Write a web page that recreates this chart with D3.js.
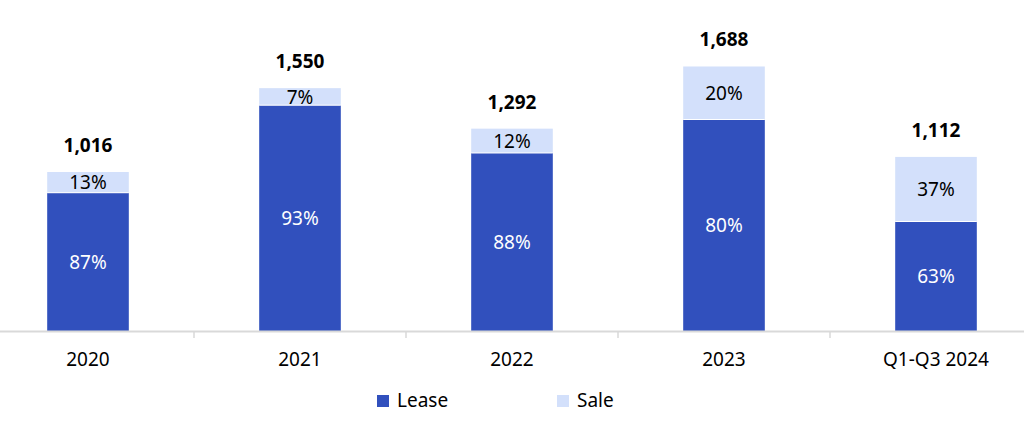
<!DOCTYPE html>
<html>
<head>
<meta charset="utf-8">
<script src="https://d3js.org/d3.v7.min.js"></script>
<style>
  body { margin: 0; background: #fff; }
  text { font-family: "Noto Sans", "Open Sans", sans-serif; }
</style>
</head>
<body>
<div id="chart"></div>
<script>
// data
var categories = ["2020", "2021", "2022", "2023", "Q1-Q3 2024"];
var totals = [1016, 1550, 1292, 1688, 1112];
var leasePct = [87, 93, 88, 80, 63];
var salePct = [13, 7, 12, 20, 37];
var seriesNames = ["Lease", "Sale"];
var colors = { Lease: "#3150BD", Sale: "#D3E0FB" };

var width = 1024, height = 423;

var svg = d3.select("#chart")
    .append("svg")
    .attr("width", width)
    .attr("height", height);

// build stacked rows
var rows = categories.map(function (c, i) {
    return {
        cat: c,
        total: totals[i],
        Lease: totals[i] * leasePct[i] / 100,
        Sale: totals[i] * salePct[i] / 100,
        LeaseLabel: leasePct[i] + "%",
        SaleLabel: salePct[i] + "%"
    };
});

var stack = d3.stack().keys(seriesNames)(rows);

var x = d3.scaleBand()
    .domain(categories)
    .range([-18, 1042])
    .paddingInner(0.615)
    .paddingOuter(0.3075);

var y = d3.scaleLinear()
    .domain([0, 2100])
    .range([331.5, 1.8]);

// bars
var layer = svg.selectAll("g.layer")
    .data(stack)
    .enter().append("g")
    .attr("class", "layer")
    .attr("fill", function (d) { return colors[d.key]; });

layer.selectAll("rect")
    .data(function (d) { return d; })
    .enter().append("rect")
    .attr("x", function (d) { return x(d.data.cat); })
    .attr("width", x.bandwidth())
    .attr("y", function (d) { return y(d[1]); })
    .attr("height", function (d) { return y(d[0]) - y(d[1]); });

// thin white separator between the two segments
svg.selectAll("line.sep")
    .data(stack[0])
    .enter().append("line")
    .attr("x1", function (d) { return x(d.data.cat); })
    .attr("x2", function (d) { return x(d.data.cat) + x.bandwidth(); })
    .attr("y1", function (d) { return y(d[1]); })
    .attr("y2", function (d) { return y(d[1]); })
    .attr("stroke", "#fff")
    .attr("stroke-width", 1);

// percent labels inside segments
stack.forEach(function (s) {
    svg.append("g").selectAll("text")
        .data(s)
        .enter().append("text")
        .attr("x", function (d) { return x(d.data.cat) + x.bandwidth() / 2; })
        .attr("y", function (d) { return (y(d[0]) + y(d[1])) / 2; })
        .attr("dy", "0.36em")
        .attr("text-anchor", "middle")
        .attr("font-size", "19px")
        .attr("fill", s.key === "Lease" ? "#fff" : "#000")
        .text(function (d) { return d.data[s.key + "Label"]; });
});

// totals above bars
svg.append("g").selectAll("text")
    .data(rows)
    .enter().append("text")
    .attr("x", function (d) { return x(d.cat) + x.bandwidth() / 2; })
    .attr("y", function (d) { return y(d.total) - 20; })
    .attr("text-anchor", "middle")
    .attr("font-size", "19px")
    .attr("font-weight", "bold")
    .attr("fill", "#000")
    .text(function (d) { return d3.format(",")(d.total); });

// x axis
svg.append("line")
    .attr("x1", 0).attr("x2", width)
    .attr("y1", 331.5).attr("y2", 331.5)
    .attr("stroke", "#D9D9D9")
    .attr("stroke-width", 2);

var step = x.step();
svg.selectAll("line.tick")
    .data(categories.slice(1))
    .enter().append("line")
    .attr("x1", function (d) { return x(d) - (step - x.bandwidth()) / 2; })
    .attr("x2", function (d) { return x(d) - (step - x.bandwidth()) / 2; })
    .attr("y1", 331).attr("y2", 338)
    .attr("stroke", "#D9D9D9")
    .attr("stroke-width", 1.5);

svg.append("g").selectAll("text")
    .data(categories)
    .enter().append("text")
    .attr("x", function (d) { return x(d) + x.bandwidth() / 2; })
    .attr("y", 366)
    .attr("text-anchor", "middle")
    .attr("font-size", "19px")
    .attr("fill", "#000")
    .text(function (d) { return d; });

// legend
var legendX = [377, 557];
var legend = svg.append("g").selectAll("g")
    .data(seriesNames)
    .enter().append("g")
    .attr("transform", function (d, i) { return "translate(" + legendX[i] + ",395)"; });

legend.append("rect")
    .attr("width", 12).attr("height", 12)
    .attr("fill", function (d) { return colors[d]; });

legend.append("text")
    .attr("x", 20)
    .attr("y", 12)
    .attr("font-size", "19px")
    .attr("fill", "#000")
    .text(function (d) { return d; });
</script>
</body>
</html>
